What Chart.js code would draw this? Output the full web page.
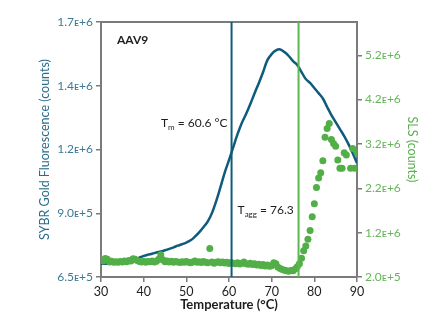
<!DOCTYPE html>
<html>
<head>
<meta charset="utf-8">
<script src="https://cdn.jsdelivr.net/npm/chart.js@4/dist/chart.umd.min.js"></script>
<style>
  html, body { margin: 0; padding: 0; background: #fff; }
  canvas { display: block; }
</style>
</head>
<body>
<canvas id="chart" width="447" height="327"></canvas>
<script>
// SYBR Gold fluorescence, one reading per degree
const fluorTemps = [30,31,32,33,34,35,36,37,38,39,40,41,42,43,44,45,46,47,48,49,50,
  51,52,53,54,55,56,57,58,59,60,61,62,63,64,65,66,67,68,69,70,
  71,72,73,74,75,76,77,78,79,80,81,82,83,84,85,86,87,88,89,90];
const fluorCounts = [705000,705000,705000,706000,706000,707000,709000,714000,722000,730000,737000,
  742000,746000,751000,755000,760000,766000,772000,779000,785000,792000,
  801000,816000,834000,855000,878000,913000,962000,1020000,1080000,1131000,
  1185000,1238000,1284000,1321000,1362000,1407000,1449000,1494000,1543000,1568000,
  1583000,1587000,1576000,1560000,1539000,1523000,1494000,1465000,1449000,1428000,
  1407000,1385000,1350000,1317000,1288000,1259000,1230000,1197000,1160000,1119000];

// Static light scattering readings
const slsTemps = [30,30.5,31,31.5,32,32.5,33,33.5,34,34.5,35,35.5,36,36.5,37,37.5,38,38.5,39,39.5,
  40,40.5,41,41.5,42,42.5,43,43.5,44,44.5,45,45.5,46,46.5,47,47.5,48,48.5,49,49.5,
  50,50.5,51,51.5,52,52.5,53,53.5,54,54.5,55,55.5,56,56.5,57,57.5,58,58.5,59,59.5,
  60,60.5,61,61.5,62,62.5,63,63.5,64,64.5,65,65.5,66,66.5,67,67.5,68,68.5,69,69.5,
  70,70.5,71,71.5,72,72.5,73,73.5,74,74.5,75,75.5,76,76.5,77,77.5,78,78.5,79,79.5,
  80,80.5,81,81.5,82,82.5,83,83.5,84,84.5,85,85.5,86,86.5,87,87.5,88.5,89,89.5,90];
const slsCounts = [590000,560000,615000,600000,540000,555000,530000,545000,535000,550000,
  540000,560000,545000,570000,560000,610000,600000,570000,550000,540000,
  555000,535000,550000,545000,560000,540000,555000,600000,700000,590000,
  545000,560000,540000,555000,530000,550000,540000,525000,545000,530000,
  550000,535000,520000,540000,560000,535000,545000,525000,550000,530000,
  520000,845000,540000,510000,530000,545000,520000,540000,515000,530000,
  505000,525000,510000,500000,520000,495000,510000,540000,500000,490000,
  510000,480000,500000,470000,490000,460000,480000,450000,470000,440000,
  455000,520000,500000,420000,390000,370000,350000,340000,330000,345000,
  340000,380000,430000,500000,620000,790000,900000,1050000,1250000,1560000,
  1850000,2220000,2430000,2550000,2820000,3350000,3550000,3660000,3300000,3210000,
  3150000,2840000,2650000,2650000,3000000,2950000,2650000,3100000,2650000,3000000];

// Transition temperatures
const meltTemp = 60.6;
const aggTemp = 76.3;

// Axis ticks
const tempTicks = [30,40,50,60,70,80,90];
const fluorTickValues = [650000,912500,1175000,1437500,1700000];
const fluorTickLabels = ['6.5\u1D07+5','9.0\u1D07+5','1.2\u1D07+6','1.4\u1D07+6','1.7\u1D07+6'];
const slsTickValues = [200000,1200000,2200000,3200000,4200000,5200000];
const slsTickLabels = ['2.0\u1D07+5','1.2\u1D07+6','2.2\u1D07+6','3.2\u1D07+6','4.2\u1D07+6','5.2\u1D07+6'];

const BLUE = '#0f5b7c';
const GREEN = '#52af47';
const AXIS_GREY = '#7b7b7b';
const FONT = "Lato, 'DejaVu Sans', sans-serif";

const overlay = {
  id: 'overlay',
  afterDatasetsDraw(chart) {
    const {ctx, chartArea: a, scales} = chart;
    const x = scales.x;
    ctx.save();
    // top frame line
    ctx.strokeStyle = AXIS_GREY;
    ctx.lineWidth = 2;
    ctx.beginPath();
    ctx.moveTo(a.left - 1, a.top);
    ctx.lineTo(a.right + 1, a.top);
    ctx.stroke();

    // Tm and Tagg markers
    const xm = x.getPixelForValue(meltTemp);
    const xa = x.getPixelForValue(aggTemp);
    ctx.lineWidth = 2;
    ctx.strokeStyle = BLUE;
    ctx.beginPath(); ctx.moveTo(xm, a.top); ctx.lineTo(xm, a.bottom); ctx.stroke();
    ctx.strokeStyle = '#5cb651';
    ctx.beginPath(); ctx.moveTo(xa, a.top); ctx.lineTo(xa, a.bottom); ctx.stroke();

    // labels
    ctx.fillStyle = '#1e1e1e';
    ctx.textBaseline = 'alphabetic';
    ctx.textAlign = 'left';
    ctx.font = "bold 12px " + FONT;
    ctx.fillText('AAV9', a.left + 16, a.top + 22);

    const sub = (x0, y0, main, s, rest) => {
      ctx.font = "12px " + FONT;
      ctx.fillText(main, x0, y0);
      let cx = x0 + ctx.measureText(main).width;
      ctx.font = "8px " + FONT;
      ctx.fillText(s, cx, y0 + 3);
      cx += ctx.measureText(s).width;
      ctx.font = "12px " + FONT;
      ctx.fillText(rest, cx, y0);
      return cx + ctx.measureText(rest).width - x0;
    };
    // measure Tm label to right-align it before the Tm line
    ctx.font = "12px " + FONT;
    let w = ctx.measureText('T').width + ctx.measureText(' = ' + meltTemp.toFixed(1) + ' \u00B0C').width;
    ctx.font = "8px " + FONT;
    w += ctx.measureText('m').width;
    sub(xm - 4 - w, 127, 'T', 'm', ' = ' + meltTemp.toFixed(1) + ' \u00B0C');
    sub(xm + 6, 214, 'T', 'agg', ' = ' + aggTemp.toFixed(1));
    ctx.restore();
  }
};

new Chart(document.getElementById('chart'), {
  type: 'scatter',
  data: {
    datasets: [
      {
        label: 'SLS',
        data: slsTemps.map((t, i) => ({x: t, y: slsCounts[i]})),
        yAxisID: 'y2',
        backgroundColor: GREEN,
        borderWidth: 0,
        pointRadius: 3.5,
        pointHoverRadius: 3.5,
        showLine: false,
        order: 1
      },
      {
        label: 'SYBR Gold',
        data: fluorTemps.map((t, i) => ({x: t, y: fluorCounts[i]})),
        yAxisID: 'y',
        borderColor: BLUE,
        borderWidth: 2.5,
        pointRadius: 0,
        showLine: true,
        tension: 0.35,
        order: 2
      }
    ]
  },
  options: {
    responsive: false,
    animation: false,
    devicePixelRatio: 1,
    layout: { padding: { top: 22, left: 0, right: 0, bottom: 0 } },
    plugins: { legend: { display: false }, tooltip: { enabled: false } },
    scales: {
      x: {
        type: 'linear', min: 30, max: 90,
        afterBuildTicks: s => { s.ticks = tempTicks.map(v => ({value: v})); },
        afterFit: s => { s.height = 50; },
        border: { color: AXIS_GREY, width: 2 },
        grid: { drawOnChartArea: false, tickLength: 5, color: AXIS_GREY, lineWidth: 1.5 },
        ticks: { color: '#222', padding: 2, font: { family: FONT, size: 12.5 } },
        title: { display: true, text: 'Temperature (\u00B0C)', color: '#1e1e1e',
                 font: { family: FONT, size: 13, weight: 'bold' }, padding: { top: 0, bottom: 14 } }
      },
      y: {
        type: 'linear', position: 'left', min: 650000, max: 1700000,
        afterBuildTicks: s => { s.ticks = fluorTickValues.map(v => ({value: v})); },
        afterFit: s => { s.width = 101; },
        border: { color: AXIS_GREY, width: 2 },
        grid: { drawOnChartArea: false, tickLength: 5, color: AXIS_GREY, lineWidth: 1.5 },
        ticks: { color: '#3d7a96', padding: 3, font: { family: FONT, size: 12 },
                 callback: (v, i) => fluorTickLabels[i] },
        title: { display: true, text: 'SYBR Gold Fluorescence (counts)', color: '#2a6d8b',
                 font: { family: FONT, size: 12.5 }, padding: { top: 37, bottom: 0 } }
      },
      y2: {
        type: 'linear', position: 'right', min: 200000, max: 5950000,
        afterBuildTicks: s => { s.ticks = slsTickValues.map(v => ({value: v})); },
        afterFit: s => { s.width = 90; },
        border: { color: AXIS_GREY, width: 2 },
        grid: { drawOnChartArea: false, tickLength: 5, color: AXIS_GREY, lineWidth: 1.5 },
        ticks: { color: '#66b65a', padding: 3, font: { family: FONT, size: 12 },
                 callback: (v, i) => slsTickLabels[i] },
        title: { display: true, text: 'SLS (counts)', color: '#5aae4e',
                 font: { family: FONT, size: 12.5 }, padding: { top: 27, bottom: 0 } }
      }
    }
  },
  plugins: [overlay]
});
</script>
</body>
</html>
